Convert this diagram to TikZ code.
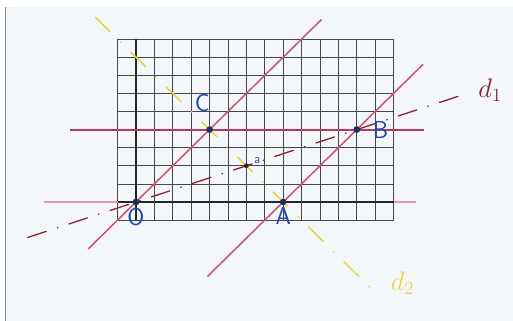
\documentclass[tikz,border=0pt]{standalone}
\usepackage{tikz}
\usetikzlibrary{positioning, calc}

\definecolor{paper}{HTML}{F4F7FA}
\definecolor{penpink}{HTML}{CC5474}
\definecolor{darkpink}{HTML}{B53A5C}
\definecolor{lightpink}{HTML}{E397AE}
\definecolor{penred}{HTML}{8E1E30}
\definecolor{penyellow}{HTML}{E4D645}
\definecolor{penblue}{HTML}{2048A8}
\definecolor{dotblue}{HTML}{1C2E60}

\begin{document}
\begin{tikzpicture}[
    x=0.5cm, y=0.4918cm,
    gridline/.style={draw=black!72, line width=0.55pt},
    axis/.style={draw=black!85, line width=1.5pt},
    pinkline/.style={draw=penpink, line width=1.2pt},
    dashdot/.style={line width=1pt, line cap=round, dash pattern=on 15pt off 9pt on 0.5pt off 9pt},
    pt/.style={circle, fill=dotblue, inner sep=0pt, minimum size=5pt},
    lbl/.style={text=penblue, font=\sffamily\fontsize{19}{19}\selectfont, inner sep=1pt}
]
    % Page
    \useasboundingbox (-7.39,-6.57) rectangle (20.49,11.16);
    \fill[paper] (-7.12,-6.57) rectangle (20.49,10.77);
    \draw[black!45, line width=0.6pt] (-7.12,-6.57) -- (-7.12,10.77);

    % Squared paper and axes
    \draw[gridline, step=1] (-1,-1) grid (14,9);
    \draw[draw=lightpink, line width=1.4pt] (-5,0) -- (15.2,0);
    \draw[axis] (-1,0) -- (14,0);
    \draw[axis] (0,-1) -- (0,9);

    % Points of the parallelogram
    \node[pt] (O) at (0,0) {};
    \node[pt] (A) at (8,0) {};
    \node[pt] (B) at (12,4) {};
    \node[pt] (C) at (4,4) {};
    \node[pt, minimum size=3.5pt, fill=black!85] (I) at (6,2) {};

    % Ends of the lines
    \coordinate (OC1) at ($(O)!-0.65!(C)$);
    \coordinate (OC2) at ($(O)!2.52!(C)$);
    \coordinate (AB1) at ($(A)!-1.03!(B)$);
    \coordinate (AB2) at ($(A)!1.9!(B)$);
    \coordinate (CB1) at ($(C)!-0.95!(B)$);
    \coordinate (CB2) at ($(C)!1.46!(B)$);
    \coordinate (d1a) at ($(O)!-0.49!(B)$);
    \coordinate (d1b) at ($(O)!1.505!(B)$);
    \coordinate (d2a) at ($(A)!2.55!(C)$);
    \coordinate (d2b) at ($(A)!-1.3!(C)$);

    % Sides
    \draw[pinkline] (OC1) -- (OC2);
    \draw[pinkline] (AB1) -- (AB2);
    \draw[pinkline, draw=darkpink, line width=1.6pt] (CB1) -- (CB2);

    % Diagonals
    \draw[dashdot, draw=penred] (d1a) -- (d1b);
    \draw[dashdot, draw=penyellow, line width=1.2pt, dash pattern=on 16pt off 11pt on 0.5pt off 11pt] (d2a) -- (d2b);

    \foreach \p in {O, A, B, C} {
        \node[pt] at (\p) {};
    }
    \node[pt, minimum size=3.5pt, fill=black!85] at (I) {};

    % Labels
    \node[lbl, below=0.02cm of O] (labO) {O};
    \node[lbl, below=0.02cm of A] (labA) {A};
    \node[lbl, above=0.35cm of C, xshift=-0.2cm] (labC) {C};
    \node[lbl, right=0.3cm of B] (labB) {B};
    \node[lbl, font=\sffamily\normalsize, right=0.1cm of I, yshift=0.15cm] (labI) {a};
    \node[text=penred, font=\fontsize{20}{20}\selectfont, right=0.15cm of d1b, yshift=0.08cm] (labd1) {$d_1$};
    \node[text=penyellow, font=\fontsize{20}{20}\selectfont, right=0.2cm of d2b, yshift=0.35cm] (labd2) {$d_2$};
\end{tikzpicture}
\end{document}
